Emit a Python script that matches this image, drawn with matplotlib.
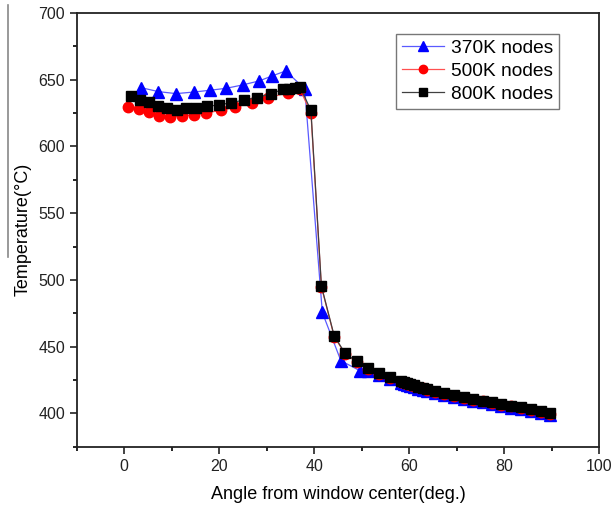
#!/usr/bin/env python3
"""Temperature along the window for three mesh sizes."""

import matplotlib

matplotlib.use("Agg")
import matplotlib.pyplot as plt
from matplotlib.lines import Line2D
from matplotlib.ticker import MultipleLocator

plt.rcParams["font.family"] = ["Liberation Sans", "DejaVu Sans"]

# 370K nodes
angle_370 = [3.5, 7.2, 10.9, 14.7, 18.0, 21.5, 24.9, 28.4, 31.1, 34.0, 38.0,
             41.7, 45.6, 49.6, 51.4, 53.6, 55.9, 58.2, 58.8, 59.5, 60.2, 60.9,
             61.9, 62.8, 63.7, 65.4, 67.4, 69.5, 71.5, 73.5, 75.6, 77.5, 79.4,
             81.5, 83.6, 85.7, 87.7, 89.7]
temp_370 = [644.0, 641.0, 639.5, 640.7, 642.0, 643.5, 646.0, 649.0, 652.7, 656.5, 643.0,
            475.6, 439.5, 432.0, 431.5, 428.8, 425.8, 422.7, 421.9, 421.2, 420.4, 419.7,
            418.6, 417.8, 417.0, 415.5, 413.8, 412.2, 410.6, 409.6, 408.2, 407.1, 405.6,
            404.4, 403.1, 401.9, 400.6, 399.0]

# 500K nodes
angle_500 = [0.8, 3.1, 5.3, 7.4, 9.7, 12.2, 14.7, 17.2, 20.4, 23.3, 26.8, 30.3, 34.5, 37.0,
             39.3, 41.5, 44.2, 46.5, 48.9, 51.4, 53.6, 55.9, 58.2, 58.8, 59.5, 60.2, 60.9,
             61.9, 62.8, 63.7, 65.4, 67.4, 69.5, 71.5, 73.5, 75.6, 77.5, 79.4,
             81.5, 83.6, 85.7, 87.7, 89.7]
temp_500 = [629.4, 628.0, 625.6, 623.0, 622.0, 622.6, 623.6, 625.0, 627.0, 629.4, 632.7, 636.4,
            640.2, 642.7, 625.0, 495.0, 457.5, 444.5, 438.6, 433.5, 429.9, 426.9, 423.5,
            422.7, 422.0, 421.2, 420.5, 419.5, 418.7, 417.9, 416.4, 414.7, 413.0, 411.4,
            410.4, 409.0, 407.9, 406.4, 405.2, 403.9, 402.7, 401.4, 399.7]

# 800K nodes
angle_800 = [1.5, 3.4, 5.2, 7.0, 9.1, 11.0, 12.9, 15.2, 17.5, 19.9, 22.5, 25.2, 28.0, 30.9,
             33.5, 34.7, 35.9, 37.0, 39.3, 41.5, 44.2, 46.5, 48.9, 51.4, 53.6, 55.9, 58.2,
             58.8, 59.5, 60.2, 60.9, 61.9, 62.8, 63.7, 65.4, 67.4, 69.5, 71.5, 73.5, 75.6,
             77.5, 79.4, 81.5, 83.6, 85.7, 87.7, 89.7]
temp_800 = [637.7, 635.0, 633.0, 630.0, 628.4, 627.6, 628.4, 629.0, 630.0, 631.0, 632.7, 634.7,
            636.5, 639.5, 642.7, 643.2, 644.0, 644.5, 627.0, 495.5, 458.0, 445.0, 439.0, 434.0,
            430.4, 427.4, 424.0, 423.2, 422.5, 421.7, 421.0, 420.0, 419.2, 418.4, 417.0, 415.3,
            413.6, 412.0, 411.0, 409.6, 408.5, 407.0, 405.8, 404.5, 403.3, 402.0, 400.3]


def main() -> None:
    fig = plt.figure(figsize=(6.14, 5.13), dpi=100)
    ax = fig.add_axes([0.125, 0.129, 0.851, 0.846])

    ax.plot(angle_370, temp_370, color="#5a5aff", linewidth=0.9, marker="^",
            markersize=8.5, markerfacecolor="#0000ff", markeredgecolor="#0000ff",
            label="370K nodes", zorder=2)
    ax.plot(angle_500, temp_500, color="#ff5050", linewidth=0.9, marker="o",
            markersize=7.5, markerfacecolor="#ff0000", markeredgecolor="#ff0000",
            label="500K nodes", zorder=3)
    ax.plot(angle_800, temp_800, color="#404040", linewidth=0.9, marker="s",
            markersize=6.5, markerfacecolor="#000000", markeredgecolor="#000000",
            label="800K nodes", zorder=4)

    ax.set_xlim(-10, 100)
    ax.set_ylim(375, 700)
    ax.xaxis.set_major_locator(MultipleLocator(20))
    ax.xaxis.set_minor_locator(MultipleLocator(10))
    ax.yaxis.set_major_locator(MultipleLocator(50))
    ax.yaxis.set_minor_locator(MultipleLocator(25))
    ax.tick_params(which="major", direction="out", length=5, width=1.2, labelsize=11.5,
                   colors="#222222", top=False, right=False)
    ax.tick_params(which="minor", direction="out", length=3, width=1.2,
                   top=False, right=False)
    for spine in ax.spines.values():
        spine.set_linewidth(1.3)
        spine.set_color("#222222")

    ax.set_xlabel("Angle from window center(deg.)", fontsize=13, labelpad=9)
    ax.set_ylabel("Temperature(°C)", fontsize=13, labelpad=5)

    legend = ax.legend(loc="upper right", bbox_to_anchor=(0.923, 0.952), fontsize=13.8,
                       fancybox=False, framealpha=1, edgecolor="#777777",
                       handlelength=2.2, borderpad=0.3, labelspacing=0.3,
                       handletextpad=0.35, borderaxespad=0, markerscale=0.8)
    legend.get_frame().set_linewidth(1.0)

    fig.add_artist(Line2D([0.013, 0.013], [0.99, 0.50], color="#888888", linewidth=1.2))

    fig.savefig("out.png", dpi=100)
    plt.close(fig)


if __name__ == "__main__":
    main()
